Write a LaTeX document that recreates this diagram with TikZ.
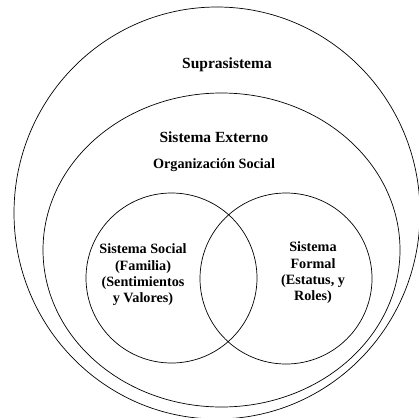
\documentclass[tikz,border=0pt]{standalone}
\usepackage{fontspec}
\setmainfont{Liberation Serif}
\usetikzlibrary{shapes.geometric}
\begin{document}
\begin{tikzpicture}[x=1pt,y=-1pt,
  ring/.style={draw,ellipse,line width=0.7pt,inner sep=0pt},
  bigtitle/.style={font=\bfseries\fontsize{15.5}{18}\selectfont,inner sep=0pt},
  label/.style={font=\bfseries\fontsize{14.2}{16.3}\selectfont,align=center,inner sep=0pt}]
  \useasboundingbox (0,0) rectangle (419,417);
  % nested systems
  \node[ring,minimum width=406pt,minimum height=412pt] (supra) at (217,213) {};
  \node[ring,minimum width=357pt,minimum height=314pt] (externo) at (221.5,250) {};
  \node[ring,minimum width=171pt,minimum height=170pt] (social) at (171.5,278) {};
  \node[ring,minimum width=172pt,minimum height=171pt] (formal) at (286,278.5) {};
  % labels
  \node[bigtitle] (tsupra) at (227,65) {Suprasistema};
  \node[bigtitle] (texterno) at (214,137) {Sistema Externo};
  \node[label] (torg) at (214,165) {Organización Social};
  \node[label] (tsocial) at (143,275) {Sistema Social\\(Familia)\\(Sentimientos\\y Valores)};
  \node[label] (tformal) at (313,273) {Sistema\\Formal\\(Estatus, y\\Roles)};
\end{tikzpicture}
\end{document}
